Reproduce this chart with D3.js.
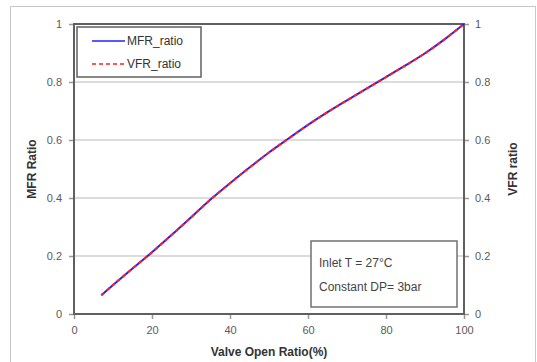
<!DOCTYPE html>
<html>
<head>
<meta charset="utf-8">
<script src="https://cdn.jsdelivr.net/npm/d3@7"></script>
<style>
  body { margin: 0; background: #fff; }
  svg { font-family: "Liberation Sans", Arial, sans-serif; }
</style>
</head>
<body>
<div id="plot"></div>
<script>
// valve open ratio (%) and flow ratios
var openRatio = [7, 10, 15, 20, 25, 30, 35, 40, 45, 50, 55, 60, 65, 70, 75, 80, 85, 90, 95, 100];
var mfrRatio  = [0.065, 0.100, 0.157, 0.213, 0.272, 0.333, 0.395, 0.451, 0.505, 0.557, 0.605, 0.652, 0.696, 0.737, 0.777, 0.817, 0.857, 0.899, 0.947, 1.0];
var vfrRatio  = [0.065, 0.100, 0.157, 0.213, 0.272, 0.333, 0.395, 0.451, 0.505, 0.557, 0.605, 0.652, 0.696, 0.737, 0.777, 0.817, 0.857, 0.899, 0.947, 1.0];
var xTicks = [0, 20, 40, 60, 80, 100];
var yTicks = [0, 0.2, 0.4, 0.6, 0.8, 1];
var seriesNames = ["MFR_ratio", "VFR_ratio"];
var noteLines = ["Inlet T =  27\u00B0C", "Constant DP= 3bar"];

var W = 537, H = 362;
var plot = { left: 74, top: 24, right: 464, bottom: 314 };

var svg = d3.select("#plot")
            .append("svg")
            .attr("width", W)
            .attr("height", H);

// outer frame
svg.append("rect")
    .attr("x", 10.5).attr("y", 6.5)
    .attr("width", 525).attr("height", 370)
    .style("fill", "none")
    .style("stroke", "#c8c8c8");

var xScale = d3.scaleLinear().domain([0, 100]).range([plot.left, plot.right]),
    yScale = d3.scaleLinear().domain([0, 1]).range([plot.bottom, plot.top]);

// gridlines
svg.append("g").selectAll("line")
    .data(yTicks.slice(1, -1))
    .enter().append("line")
    .attr("x1", plot.left).attr("x2", plot.right)
    .attr("y1", function(d){ return yScale(d); })
    .attr("y2", function(d){ return yScale(d); })
    .style("stroke", "#d0d0d0")
    .style("stroke-width", 1.5);

function styleAxis(g) {
    g.select(".domain").remove();
    g.selectAll(".tick line").style("stroke", "#999").style("stroke-width", 1.5);
    g.selectAll(".tick text")
        .style("font-size", "11px")
        .style("fill", "#5a5a5a");
}

var fmt = function(d){ return d3.format("")(+d.toFixed(1)); };

svg.append("g")
    .attr("transform", "translate(0," + plot.bottom + ")")
    .call(d3.axisBottom(xScale).tickValues(xTicks).tickSize(5).tickPadding(7))
    .call(styleAxis);

svg.append("g")
    .attr("transform", "translate(" + plot.left + ",0)")
    .call(d3.axisLeft(yScale).tickValues(yTicks).tickSize(5).tickPadding(7).tickFormat(fmt))
    .call(styleAxis);

svg.append("g")
    .attr("transform", "translate(" + plot.right + ",0)")
    .call(d3.axisRight(yScale).tickValues(yTicks).tickSize(5).tickPadding(6).tickFormat(fmt))
    .call(styleAxis);

// plot border
svg.append("rect")
    .attr("x", plot.left).attr("y", plot.top)
    .attr("width", plot.right - plot.left)
    .attr("height", plot.bottom - plot.top)
    .style("fill", "none")
    .style("stroke", "#606060")
    .style("stroke-width", 2);

// series
var line = d3.line()
    .x(function(d){ return xScale(d[0]); })
    .y(function(d){ return yScale(d[1]); })
    .curve(d3.curveCatmullRom);

svg.append("path")
    .datum(d3.zip(openRatio, mfrRatio))
    .attr("d", line)
    .style("fill", "none")
    .style("stroke", "#2020ff")
    .style("stroke-width", 2);

svg.append("path")
    .datum(d3.zip(openRatio, vfrRatio))
    .attr("d", line)
    .style("fill", "none")
    .style("stroke", "#ff2020")
    .style("stroke-width", 2)
    .style("stroke-dasharray", "4,3");

// axis titles
svg.append("text")
    .attr("x", 269).attr("y", 356)
    .attr("text-anchor", "middle")
    .style("font-size", "12px")
    .style("font-weight", "bold")
    .style("fill", "#333")
    .text("Valve Open Ratio(%)");

svg.append("text")
    .attr("transform", "translate(36,169) rotate(-90)")
    .attr("text-anchor", "middle")
    .style("font-size", "12px")
    .style("font-weight", "bold")
    .style("fill", "#333")
    .text("MFR Ratio");

svg.append("text")
    .attr("transform", "translate(517,169) rotate(-90)")
    .attr("text-anchor", "middle")
    .style("font-size", "12px")
    .style("font-weight", "bold")
    .style("fill", "#333")
    .text("VFR ratio");

// legend
var g_legend = svg.append("g").attr("transform", "translate(77,27)");
g_legend.append("rect")
    .attr("width", 124).attr("height", 50)
    .style("fill", "#fff")
    .style("stroke", "#606060")
    .style("stroke-width", 1.5);
g_legend.selectAll(".leg-line")
    .data(seriesNames)
    .enter().append("line")
    .attr("x1", 15).attr("x2", 48)
    .attr("y1", function(d, i){ return 14 + i * 23; })
    .attr("y2", function(d, i){ return 14 + i * 23; })
    .style("stroke", function(d, i){ return i === 0 ? "#2020ff" : "#ff2020"; })
    .style("stroke-width", 1.5)
    .style("stroke-dasharray", function(d, i){ return i === 0 ? null : "4,3"; });
g_legend.selectAll(".leg-text")
    .data(seriesNames)
    .enter().append("text")
    .attr("x", 50)
    .attr("y", function(d, i){ return 18 + i * 23; })
    .style("font-size", "12px")
    .style("fill", "#333")
    .text(function(d){ return d; });

// note box
var g_note = svg.append("g").attr("transform", "translate(311,241)");
g_note.append("rect")
    .attr("width", 146).attr("height", 66)
    .style("fill", "#fff")
    .style("stroke", "#707070")
    .style("stroke-width", 1.5);
g_note.selectAll("text")
    .data(noteLines)
    .enter().append("text")
    .attr("x", 8)
    .attr("y", function(d, i){ return 26 + i * 24; })
    .style("font-size", "12px")
    .style("fill", "#444")
    .text(function(d){ return d; });
</script>
</body>
</html>
